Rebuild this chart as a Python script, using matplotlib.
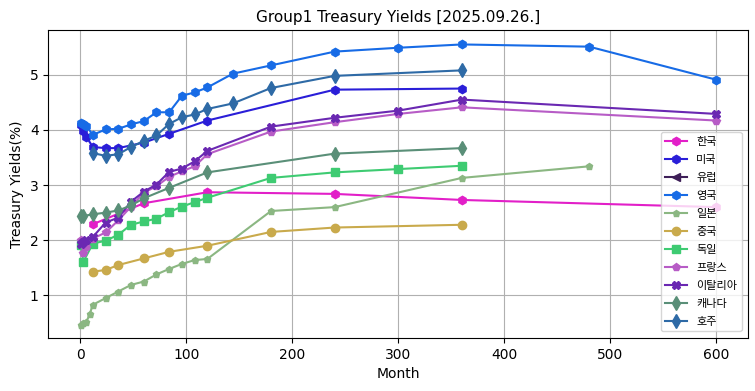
import numpy as np
import matplotlib
matplotlib.use('Agg')
import matplotlib.pyplot as plt

plt.rcParams['font.family'] = ['DejaVu Sans', 'Noto Sans CJK KR']

# Yield curves by country: maturity in months and yield in %
kr_month = [12, 60, 120, 240, 360, 600]
kr_yield = [2.29, 2.67, 2.87, 2.84, 2.73, 2.60]

us_month = [1, 3, 6, 12, 24, 36, 60, 84, 120, 240, 360]
us_yield = [4.09, 3.98, 3.87, 3.69, 3.67, 3.67, 3.77, 3.93, 4.17, 4.73, 4.75]

eu_month = []
eu_yield = []

uk_month = [1, 3, 6, 12, 24, 36, 48, 60, 72, 84, 96, 108, 120, 144, 180, 240, 300, 360, 480, 600]
uk_yield = [4.12, 4.11, 4.07, 3.91, 4.01, 4.02, 4.10, 4.16, 4.32, 4.32, 4.62, 4.68, 4.77, 5.02, 5.17,
            5.42, 5.49, 5.55, 5.51, 4.91]

jp_month = [1, 3, 6, 9, 12, 24, 36, 48, 60, 72, 84, 96, 108, 120, 180, 240, 360, 480]
jp_yield = [0.47, 0.49, 0.52, 0.66, 0.83, 0.95, 1.07, 1.19, 1.25, 1.38, 1.48, 1.57, 1.64, 1.66,
            2.53, 2.60, 3.13, 3.34]

cn_month = [12, 24, 36, 60, 84, 120, 180, 240, 360]
cn_yield = [1.43, 1.46, 1.55, 1.67, 1.79, 1.90, 2.15, 2.23, 2.28]

de_month = [1, 3, 12, 24, 36, 48, 60, 72, 84, 96, 108, 120, 180, 240, 300, 360]
de_yield = [1.91, 1.61, 1.94, 1.99, 2.10, 2.28, 2.34, 2.39, 2.51, 2.61, 2.69, 2.77, 3.13, 3.23, 3.29, 3.35]

fr_month = [1, 3, 6, 12, 24, 36, 48, 60, 72, 84, 96, 108, 120, 180, 240, 300, 360, 600]
fr_yield = [2.00, 1.76, 1.88, 2.03, 2.14, 2.36, 2.61, 2.86, 2.98, 3.15, 3.25, 3.34, 3.56,
            3.97, 4.14, 4.29, 4.41, 4.17]

it_month = [1, 3, 6, 12, 24, 36, 48, 60, 72, 84, 96, 108, 120, 180, 240, 300, 360, 600]
it_yield = [1.93, 1.97, 2.01, 2.06, 2.32, 2.41, 2.70, 2.88, 3.01, 3.24, 3.30, 3.43, 3.62,
            4.06, 4.22, 4.35, 4.55, 4.29]

ca_month = [1, 3, 12, 24, 36, 48, 60, 84, 120, 240, 360]
ca_yield = [2.44, 2.44, 2.47, 2.50, 2.54, 2.63, 2.76, 2.95, 3.23, 3.57, 3.67]

au_month = [12, 24, 36, 48, 60, 72, 84, 96, 108, 120, 144, 180, 240, 360]
au_yield = [3.58, 3.53, 3.56, 3.69, 3.80, 3.90, 4.11, 4.23, 4.28, 4.38, 4.48, 4.76, 4.98, 5.08]

series = [
    ('한국', kr_month, kr_yield, '#e21fc8', 'h', 6),
    ('미국', us_month, us_yield, '#2a1ed8', 'h', 6),
    ('유럽', eu_month, eu_yield, '#3e1f58', '<', 6),
    ('영국', uk_month, uk_yield, '#176be6', 'h', 6),
    ('일본', jp_month, jp_yield, '#8bb782', 'p', 5),
    ('중국', cn_month, cn_yield, '#c9aa4c', 'o', 6),
    ('독일', de_month, de_yield, '#3ecb72', 's', 6),
    ('프랑스', fr_month, fr_yield, '#b75cc6', 'p', 6),
    ('이탈리아', it_month, it_yield, '#6a28b2', 'X', 6),
    ('캐나다', ca_month, ca_yield, '#5a8f78', 'd', 7.5),
    ('호주', au_month, au_yield, '#2e6aa6', 'd', 7.5),
]

fig = plt.figure(figsize=(7.55, 3.91), dpi=100)
ax = fig.add_axes([0.064, 0.136, 0.927, 0.787])

for name, m, y, c, mk, ms in series:
    ax.plot(m, y, color=c, marker=mk, markersize=ms, linewidth=1.5, label=name)

ax.set_xlim(-30, 630)
ax.set_ylim(0.23, 5.81)
ax.set_yticks([1, 2, 3, 4, 5])
ax.grid(True)
ax.set_title('Group1 Treasury Yields [2025.09.26.]', fontsize=11)
ax.set_xlabel('Month')
ax.set_ylabel('Treasury Yields(%)')
ax.legend(loc='lower right', fontsize=8, labelspacing=0.72, borderaxespad=0.6)

fig.savefig('out.png', dpi=100)
